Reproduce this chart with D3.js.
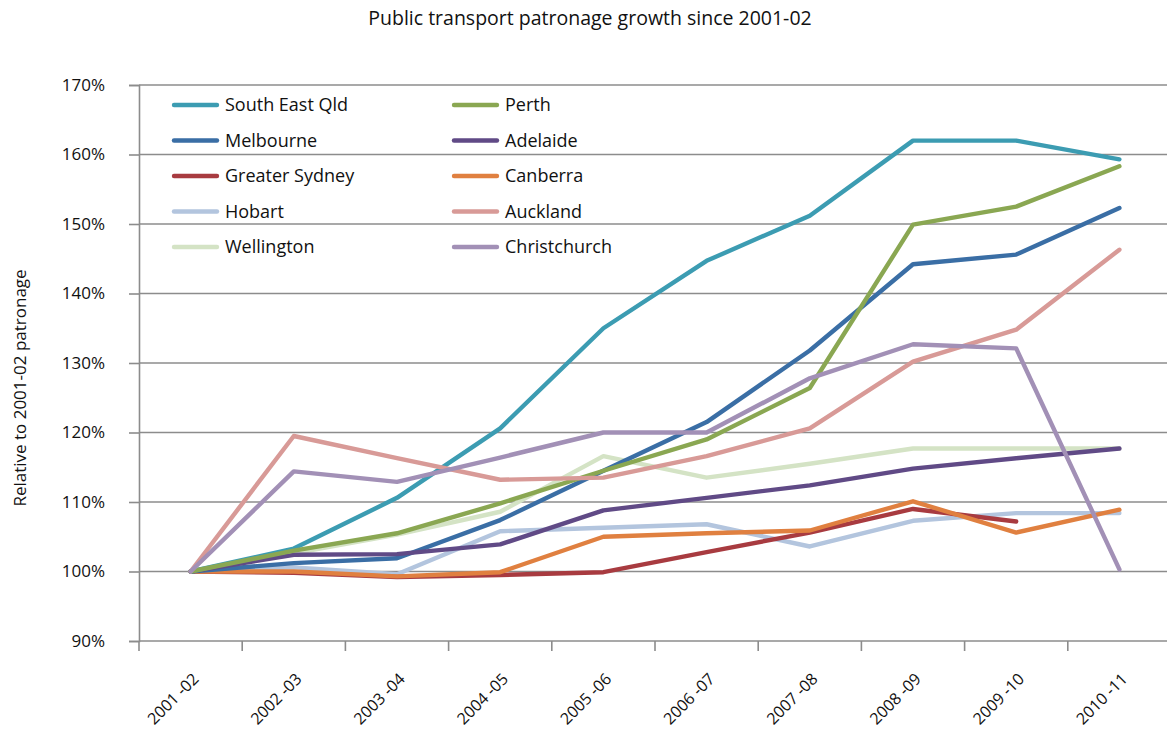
<!DOCTYPE html>
<html>
<head>
<meta charset="utf-8">
<script src="https://cdn.jsdelivr.net/npm/d3@7"></script>
<style>
  body { margin: 0; background: #fff; }
  text { font-family: "Open Sans", sans-serif; fill: #111; }
</style>
</head>
<body>
<div id="chart"></div>
<script>
// Financial years (x categories)
var years = ['2001 -02', '2002 -03', '2003 -04', '2004 -05', '2005 -06', '2006 -07', '2007 -08', '2008 -09', '2009 -10', '2010 -11'];

// Patronage relative to 2001-02 (%)
var southEastQld = [100, 103.3, 110.6, 120.6, 135.0, 144.7, 151.2, 162.0, 162.0, 159.3];
var perth = [100, 103.0, 105.5, 109.8, 114.5, 119.0, 126.4, 149.9, 152.5, 158.3];
var melbourne = [100, 101.2, 101.9, 107.4, 114.5, 121.5, 131.8, 144.2, 145.6, 152.3];
var adelaide = [100, 102.4, 102.5, 103.9, 108.8, 110.6, 112.4, 114.8, 116.3, 117.7];
var greaterSydney = [100, 99.8, 99.2, 99.5, 99.9, 102.8, 105.6, 109.0, 107.2, null];
var canberra = [100, 100.0, 99.3, 99.9, 105.0, 105.5, 105.9, 110.1, 105.6, 108.9];
var hobart = [100, 100.6, 99.6, 105.8, 106.3, 106.8, 103.6, 107.3, 108.4, 108.4];
var auckland = [100, 119.5, 116.3, 113.2, 113.5, 116.6, 120.6, 130.2, 134.8, 146.3];
var wellington = [100, 102.6, 105.3, 108.6, 116.6, 113.5, 115.5, 117.7, 117.7, 117.7];
var christchurch = [100, 114.4, 112.9, 116.4, 120.0, 120.0, 127.8, 132.7, 132.1, 100.3];

var yTicks = [90, 100, 110, 120, 130, 140, 150, 160, 170];

// Legend order (row by row, two columns)
var legendNames = ['South East Qld', 'Perth', 'Melbourne', 'Adelaide', 'Greater Sydney', 'Canberra', 'Hobart', 'Auckland', 'Wellington', 'Christchurch'];

var seriesList = [
	{ name: 'South East Qld', values: southEastQld, color: '#3c9cb2' },
	{ name: 'Perth', values: perth, color: '#8aa752' },
	{ name: 'Melbourne', values: melbourne, color: '#3a6ea5' },
	{ name: 'Adelaide', values: adelaide, color: '#604a86' },
	{ name: 'Greater Sydney', values: greaterSydney, color: '#a83b40' },
	{ name: 'Canberra', values: canberra, color: '#e08040' },
	{ name: 'Hobart', values: hobart, color: '#b3c5de' },
	{ name: 'Auckland', values: auckland, color: '#d89a97' },
	{ name: 'Wellington', values: wellington, color: '#d4e3c5' },
	{ name: 'Christchurch', values: christchurch, color: '#a290b6' }
];

// Order in which the lines are stacked (bottom first)
var drawOrder = ['Hobart', 'Wellington', 'Greater Sydney', 'Canberra', 'Melbourne', 'Adelaide', 'South East Qld', 'Perth', 'Auckland', 'Christchurch'];

var svgWidth = 1167;
var svgHeight = 735;

var svg = d3.select('#chart').append('svg').attr('width', svgWidth).attr('height', svgHeight);

var plot = { left: 139, right: 1171, top: 85, bottom: 641 };

var xScale = d3.scaleBand().domain(years).range([ plot.left, plot.right ]).padding(0);
var yScale = d3.scaleLinear().domain([ 90, 170 ]).range([ plot.bottom, plot.top ]);
var xMid = (d) => xScale(d) + xScale.bandwidth() / 2;

// Title
svg.append('text')
	.attr('x', 590)
	.attr('y', 25)
	.attr('text-anchor', 'middle')
	.style('font-size', '19.5px')
	.text('Public transport patronage growth since 2001-02');

// Horizontal gridlines
svg.append('g')
	.selectAll('line')
	.data(yTicks)
	.enter()
	.append('line')
	.attr('x1', plot.left)
	.attr('x2', svgWidth)
	.attr('y1', (d) => yScale(d))
	.attr('y2', (d) => yScale(d))
	.attr('stroke', '#8c8c8c')
	.attr('stroke-width', 1.6);

// Y axis
var yAxis = d3.axisLeft(yScale).tickValues(yTicks).tickSize(10).tickPadding(24).tickFormat((d) => d + '%');
var yAxisG = svg.append('g').attr('transform', `translate(${plot.left}, 0)`).call(yAxis);
yAxisG.select('.domain').attr('stroke', '#8c8c8c').attr('stroke-width', 1.6);
yAxisG.selectAll('.tick line').attr('stroke', '#8c8c8c').attr('stroke-width', 1.6);
yAxisG.selectAll('.tick text').style('font-size', '17px').style('font-family', '"Open Sans", sans-serif').attr('fill', '#111');

// X axis: tick marks at band edges
var edges = years.map((d) => xScale(d)).concat([ plot.right ]);
svg.append('g')
	.selectAll('line')
	.data(edges)
	.enter()
	.append('line')
	.attr('x1', (d) => d)
	.attr('x2', (d) => d)
	.attr('y1', plot.bottom)
	.attr('y2', plot.bottom + 10)
	.attr('stroke', '#8c8c8c')
	.attr('stroke-width', 1.6);

// X labels, rotated
svg.append('g')
	.selectAll('text')
	.data(years)
	.enter()
	.append('text')
	.attr('transform', (d) => `translate(${xMid(d) + 9}, ${plot.bottom + 39}) rotate(-45)`)
	.attr('text-anchor', 'end')
	.style('font-size', '16px')
	.text((d) => d);

// Y axis title
svg.append('text')
	.attr('transform', 'translate(26, 388) rotate(-90)')
	.attr('text-anchor', 'middle')
	.style('font-size', '17px')
	.text('Relative to 2001-02 patronage');

// Lines
var line = d3.line()
	.defined((d) => d.v !== null)
	.x((d) => xMid(d.year))
	.y((d) => yScale(d.v));

var ordered = drawOrder.map((n) => seriesList.find((s) => s.name === n));
svg.append('g')
	.selectAll('path')
	.data(ordered)
	.enter()
	.append('path')
	.attr('d', (s) => line(s.values.map((v, i) => ({ year: years[i], v: v }))))
	.attr('fill', 'none')
	.attr('stroke', (s) => s.color)
	.attr('stroke-width', 4.4)
	.attr('stroke-linejoin', 'round')
	.attr('stroke-linecap', 'round');

// Legend
var legend = svg.append('g');
legendNames.forEach(function(name, i) {
	var s = seriesList.find((d) => d.name === name);
	var col = i % 2;
	var row = Math.floor(i / 2);
	var gx = 174 + col * 280;
	var gy = 105 + row * 35.5;
	legend.append('line')
		.attr('x1', gx)
		.attr('x2', gx + 43)
		.attr('y1', gy)
		.attr('y2', gy)
		.attr('stroke', s.color)
		.attr('stroke-width', 4.4)
		.attr('stroke-linecap', 'round');
	legend.append('text')
		.attr('x', gx + 51)
		.attr('y', gy + 6)
		.style('font-size', '18px')
		.text(name);
});
</script>
</body>
</html>
